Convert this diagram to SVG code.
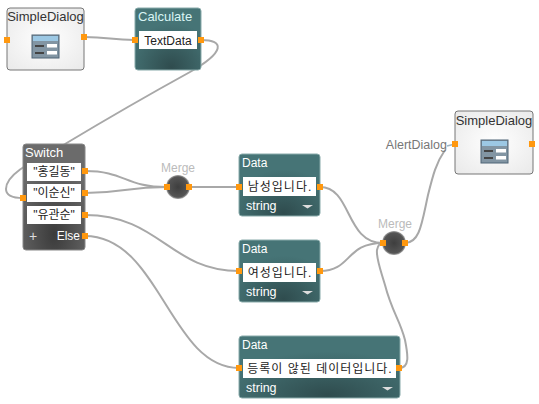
<svg xmlns="http://www.w3.org/2000/svg" width="539" height="404" viewBox="0 0 539 404">
<style>
text{font-family:"Liberation Sans","Noto Sans CJK KR",sans-serif}
.w{fill:none;stroke:#a8a8a8;stroke-width:2}
.p{fill:#ff980f}
.t{fill:#fff;font-size:12px}
.h{fill:#fff;font-size:13px}
.s{fill:#fff;font-size:12.500px}
.v{fill:#222;font-size:12px;text-anchor:middle}
.k{letter-spacing:1px}
.box{fill:#fff}
.dlg{fill:url(#dg);stroke:#777;stroke-width:1}
.teal{fill:url(#tg);stroke:#8aa;stroke-width:1}
.ml{fill:#bbb;font-size:12px;text-anchor:middle}
.dt{fill:#333;font-size:13px;text-anchor:middle}
</style>
<defs>
<radialGradient id="dg" cx=".5" cy=".5" r=".8"><stop offset="0" stop-color="#fff"/><stop offset="1" stop-color="#e6e6e6"/></radialGradient>
<radialGradient id="tg" cx=".55" cy=".95" r=".7"><stop offset="0" stop-color="#2f4c4e"/><stop offset="1" stop-color="#467476"/></radialGradient>
<radialGradient id="sg" cx=".5" cy=".85" r=".7"><stop offset="0" stop-color="#3b3b3b"/><stop offset="1" stop-color="#6b6b6b"/></radialGradient>
<radialGradient id="mg" cx=".5" cy=".5" r=".5"><stop offset="0" stop-color="#3e3e3e"/><stop offset=".85" stop-color="#555"/><stop offset="1" stop-color="#aaa"/></radialGradient>
<g id="icon">
<rect x="0" y="0" width="27" height="23" fill="#8295a3" stroke="#4f6576"/>
<rect x="1" y="1" width="25" height="5" fill="#9cc8e4"/>
<rect x="15" y="9" width="10" height="3.500" fill="#fff"/>
<rect x="15" y="16" width="10" height="3.500" fill="#fff"/>
<rect x="3" y="10" width="9" height="2" fill="#444"/>
<rect x="3" y="17" width="9" height="2" fill="#444"/>
</g>
<path id="tri" d="M0 0h11l-5.500 3.500z" fill="#ddd"/>
</defs>
<g id="connectors">
<path class="w" d="M84 37C110 37 110 40 135 40"/>
<path class="w" d="M201 40C225 40 225 52 190 72C150 94 110 117 65 144C40 158 6 172 6 189C6 197 15 198 23 198"/>
<path class="w" d="M85 171C125 171 125 187 167 187"/>
<path class="w" d="M85 193C125 193 125 187 167 187"/>
<path class="w" d="M189 187H239"/>
<path class="w" d="M85 215C160 215 170 271 239 271"/>
<path class="w" d="M85 236C160 236 170 368 239 368"/>
<path class="w" d="M320 187C352 187 345 243 383 243"/>
<path class="w" d="M320 271C352 271 345 243 383 243"/>
<path class="w" d="M399 368C410 368 408 355 405 340C400 320 392 312 385 285C380 268 376 258 377 250C378 245 380 243 383 243"/>
<path class="w" d="M405 243C420 243 422 222 428 195C433 175 436 163 445 150"/>
<path d="M447 146L455 144" fill="none" stroke="#9fb4c0" stroke-width="1.500"/>
</g>
<g id="dialog1">
<rect class="dlg" x="7" y="8" width="77" height="62" rx="3"/>
<text class="dt" x="45.500" y="21">SimpleDialog</text>
<use href="#icon" x="32" y="35"/>
<rect class="p" x="4" y="37" width="6" height="6"/><rect class="p" x="81" y="34" width="6" height="6"/>
</g>
<g id="calculate">
<rect class="teal" x="135" y="8" width="66" height="62" rx="3"/>
<text x="138" y="21" fill="#d8f4f4" font-size="13">Calculate</text>
<rect class="box" x="139" y="31" width="58" height="18"/>
<text class="v" x="168" y="45">TextData</text>
<rect class="p" x="132" y="37" width="6" height="6"/><rect class="p" x="198" y="37" width="6" height="6"/>
</g>
<g id="switch">
<rect x="23" y="144" width="62" height="106" rx="3" fill="url(#sg)" stroke="#888"/>
<text class="h" x="25" y="157">Switch</text>
<rect class="box" x="27" y="163" width="54" height="18"/><text class="v" x="54" y="176">"홍길동"</text>
<rect class="box" x="27" y="184" width="54" height="18"/><text class="v" x="54" y="197">"이순신"</text>
<rect class="box" x="27" y="206" width="54" height="18"/><text class="v" x="54" y="219">"유관순"</text>
<text x="33" y="241" fill="#ddd" font-size="14" text-anchor="middle">+</text>
<text class="t" x="80" y="240" text-anchor="end">Else</text>
<rect class="p" x="20" y="195" width="6" height="6"/>
<rect class="p" x="82" y="168" width="6" height="6"/><rect class="p" x="82" y="190" width="6" height="6"/><rect class="p" x="82" y="212" width="6" height="6"/><rect class="p" x="82" y="233" width="6" height="6"/>
</g>
<g id="merge1">
<text class="ml" x="178" y="172">Merge</text>
<circle cx="178" cy="187" r="12" fill="url(#mg)"/>
<rect class="p" x="164" y="184" width="6" height="6"/><rect class="p" x="186" y="184" width="6" height="6"/>
</g>
<g id="data1">
<rect class="teal" x="239" y="154" width="81" height="62" rx="3"/>
<text class="t" x="242" y="167">Data</text>
<rect class="box" x="243" y="177" width="73" height="19"/>
<text class="v k" x="280" y="191">남성입니다.</text>
<text class="s" x="246" y="210">string</text>
<use href="#tri" x="302" y="205"/>
<rect class="p" x="236" y="184" width="6" height="6"/><rect class="p" x="317" y="184" width="6" height="6"/>
</g>
<g id="data2">
<rect class="teal" x="239" y="240" width="81" height="62" rx="3"/>
<text class="t" x="242" y="253">Data</text>
<rect class="box" x="243" y="263" width="73" height="19"/>
<text class="v k" x="280" y="277">여성입니다.</text>
<text class="s" x="246" y="296">string</text>
<use href="#tri" x="302" y="291"/>
<rect class="p" x="236" y="268" width="6" height="6"/><rect class="p" x="317" y="268" width="6" height="6"/>
</g>
<g id="data3">
<rect class="teal" x="239" y="336" width="161" height="62" rx="3"/>
<text class="t" x="242" y="349">Data</text>
<rect class="box" x="243" y="359" width="153" height="19"/>
<text class="v k" x="320" y="373">등록이 않된 데이터입니다.</text>
<text class="s" x="246" y="392">string</text>
<use href="#tri" x="382" y="387"/>
<rect class="p" x="236" y="365" width="6" height="6"/><rect class="p" x="396" y="365" width="6" height="6"/>
</g>
<g id="merge2">
<text class="ml" x="395" y="228">Merge</text>
<circle cx="394" cy="243" r="12" fill="url(#mg)"/>
<rect class="p" x="380" y="240" width="6" height="6"/><rect class="p" x="402" y="240" width="6" height="6"/>
</g>
<g id="dialog2">
<text x="447" y="149" fill="#777" font-size="12.500" text-anchor="end">AlertDialog</text>
<rect class="dlg" x="455" y="111" width="78" height="63" rx="3"/>
<text class="dt" x="494" y="125">SimpleDialog</text>
<use href="#icon" x="481" y="140"/>
<rect class="p" x="452" y="141" width="6" height="6"/><rect class="p" x="529" y="141" width="6" height="6"/>
</g>
</svg>
